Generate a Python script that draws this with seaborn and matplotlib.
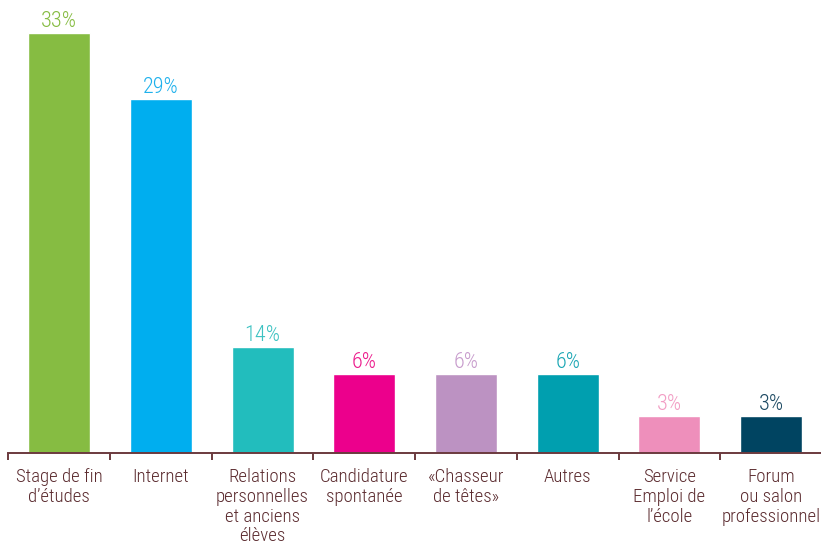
import matplotlib
matplotlib.use("Agg")
import matplotlib.pyplot as plt
import seaborn as sns
import pandas as pd
from matplotlib.ticker import FixedLocator
from matplotlib import font_manager

categories = ["Stage de fin\nd’études", "Internet", "Relations\npersonnelles\net anciens\nélèves",
              "Candidature\nspontanée", "«Chasseur\nde têtes»", "Autres",
              "Service\nEmploi de\nl’école", "Forum\nou salon\nprofessionnel"]
value_labels = ["33%", "29%", "14%", "6%", "6%", "6%", "3%", "3%"]
bar_heights = [33, 27.8, 8.3, 6.2, 6.2, 6.2, 2.9, 2.9]
bar_colors = ["#86bc42", "#00aeef", "#22bdbd", "#ec008c", "#bc92c2", "#009faf", "#ee8fbb", "#004461"]
label_colors = ["#86bc42", "#1fb1ec", "#3cc2c2", "#ec1a8c", "#c79bcc", "#1aa6b4", "#f29dc4", "#1d4a63"]

sns.set_theme(style="white")
names = [f.name for f in font_manager.fontManager.ttflist]
fam = []
for n in ["Roboto Condensed", "Liberation Sans Narrow", "DejaVu Sans Condensed", "Liberation Sans"]:
    if n in names:
        fam.append(n)
fam.append("DejaVu Sans")
plt.rcParams["font.family"] = fam

df = pd.DataFrame({"cat": categories, "h": bar_heights})

fig = plt.figure(figsize=(8.21, 5.46), dpi=100)
ax = fig.add_axes([0.0101, 0.1703, 0.991, 0.8297])
sns.barplot(data=df, x="cat", y="h", hue="cat", palette=bar_colors, width=0.61,
            legend=False, ax=ax, saturation=1)
ax.set_xlim(-0.5, 7.5)
ax.set_ylim(0, 35.59)
ax.set_xlabel("")
ax.set_ylabel("")
ax.set_yticks([])
for s in ["top", "right", "left"]:
    ax.spines[s].set_visible(False)
axis_col = "#6b3a3e"
ax.spines["bottom"].set_color(axis_col)
ax.spines["bottom"].set_linewidth(1.4)
ax.xaxis.set_minor_locator(FixedLocator([i - 0.5 for i in range(9)]))
ax.tick_params(axis="x", which="major", length=0, pad=11, labelsize=13.5, labelcolor="#5b2b2f")
ax.tick_params(axis="x", which="minor", length=5, width=1.4, color=axis_col, direction="out", bottom=True)
for lab in ax.get_xticklabels():
    lab.set_linespacing(1.12)
    lab.set_verticalalignment("top")
    lab.set_fontweight("light")

for i, (h, t, c) in enumerate(zip(bar_heights, value_labels, label_colors)):
    ax.text(i, h + 0.5, t, ha="center", va="baseline", fontsize=16, color=c, fontweight="light")

fig.savefig("out.png", dpi=100)
